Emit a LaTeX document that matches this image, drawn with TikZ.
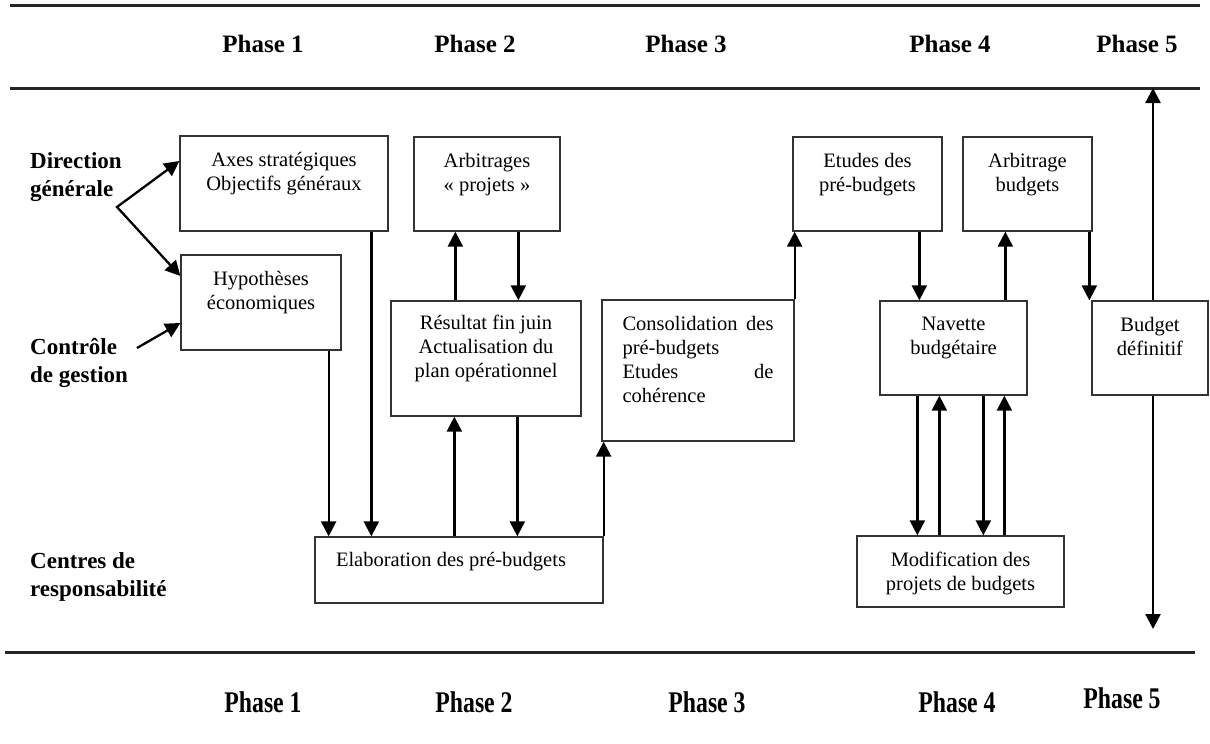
\documentclass[tikz,border=0pt]{standalone}
\usepackage{fontspec}
\setmainfont{Liberation Serif}
\usetikzlibrary{arrows.meta,calc}
\tikzset{
  box/.style={draw=black!80, line width=1.3pt, inner sep=0pt, fill=white},
  bt/.style={anchor=north, align=center, inner sep=0pt, yshift=-16.5pt,
    font=\fontsize{20.5}{24}\selectfont, execute at begin node=\strut},
  arr/.style={line width=2.3pt, -{Triangle[width=15pt,length=15pt]}},
  rule/.style={line width=3pt, draw=black!85},
  phase/.style={font=\fontsize{25}{28}\selectfont\bfseries, inner sep=0pt},
  rowlab/.style={font=\fontsize{23}{27.5}\selectfont\bfseries, align=left, inner sep=0pt, anchor=west},
}
\begin{document}
\begin{tikzpicture}[x=1pt,y=-1pt]
\fill[white] (0,0) rectangle (1210,744);
\useasboundingbox (0,0) rectangle (1210,744);

% rules
\coordinate (t1a) at (10,5);   \coordinate (t1b) at (1200,5);
\coordinate (t2a) at (10,88);  \coordinate (t2b) at (1200,88);
\coordinate (b1a) at (5,652);  \coordinate (b1b) at (1195,652);
\draw[rule] (t1a) -- (t1b);
\draw[rule] (t2a) -- (t2b);
\draw[rule] (b1a) -- (b1b);

% phases
\node[phase] (p1t) at (263,44) {Phase 1};
\node[phase] (p2t) at (475,44) {Phase 2};
\node[phase] (p3t) at (686,44) {Phase 3};
\node[phase] (p4t) at (950,44) {Phase 4};
\node[phase] (p5t) at (1137,44) {Phase 5};
\node[phase] (p1b) at (263,702) {\scalebox{0.95}[1.2]{Phase 1}};
\node[phase] (p2b) at (474,702) {\scalebox{0.95}[1.2]{Phase 2}};
\node[phase] (p3b) at (707,702) {\scalebox{0.95}[1.2]{Phase 3}};
\node[phase] (p4b) at (957,702) {\scalebox{0.95}[1.2]{Phase 4}};
\node[phase] (p5b) at (1122,698) {\scalebox{0.95}[1.2]{Phase 5}};

% row labels
\node[rowlab] (dg) at (30,177) {Direction\\générale};
\node[rowlab] (cg) at (30,363) {Contrôle\\de gestion};
\node[rowlab] (cr) at (30,577) {Centres de\\responsabilité};

% boxes
\node[box, minimum width=208pt, minimum height=95pt,
  label={[bt]north:{Axes stratégiques\\Objectifs généraux}}] (axes) at (284,183.5) {};
\node[box, minimum width=160pt, minimum height=95pt,
  label={[bt]north:{Hypothèses\\économiques}}] (hyp) at (261,302.5) {};
\node[box, minimum width=146pt, minimum height=94pt,
  label={[bt]north:{Arbitrages\\« projets »}}] (arbp) at (487,184) {};
\node[box, minimum width=190pt, minimum height=115pt,
  label={[bt, yshift=1.5pt]north:{Résultat fin juin\\Actualisation du\\plan opérationnel}}] (res) at (486,358.5) {};
\node[box, minimum width=192pt, minimum height=141pt,
  label={[bt, anchor=north west, align=left, text width=151pt, xshift=21pt, yshift=2pt]north west:{Consolidation\hfill des\\pré-budgets\\Etudes\hfill de\\cohérence}}] (cons) at (698,370.5) {};
\node[box, minimum width=149pt, minimum height=94pt,
  label={[bt]north:{Etudes des\\pré-budgets}}] (etud) at (867.5,184) {};
\node[box, minimum width=129pt, minimum height=94pt,
  label={[bt]north:{Arbitrage\\budgets}}] (arbb) at (1027.5,184) {};
\node[box, minimum width=147pt, minimum height=94pt,
  label={[bt]north:{Navette\\budgétaire}}] (nav) at (953.5,348) {};
\node[box, minimum width=116pt, minimum height=94pt,
  label={[bt]north:{Budget\\définitif}}] (budg) at (1150,348) {};
\node[box, minimum width=288pt, minimum height=66pt,
  label={[bt, xshift=-8pt, yshift=3.5pt]north:{Elaboration des pré-budgets}}] (elab) at (459,570) {};
\node[box, minimum width=207pt, minimum height=71pt,
  label={[bt]north:{Modification des\\projets de budgets}}] (modif) at (960.5,571.5) {};

% left arrows
\coordinate (fork) at (117,207);
\coordinate (cgstart) at (137,348);
\draw[line width=2.3pt, {Triangle[width=15pt,length=15pt]}-{Triangle[width=15pt,length=15pt]}]
  ([yshift=22.5pt]axes.west) -- (fork) -- ([yshift=26.5pt]hyp.west);
\draw[arr] (cgstart) -- ([yshift=-20.5pt]hyp.west);

% phase 1 -> elaboration
\draw[arr] ($(hyp.south east)+(-13,0)$) coordinate (h1) -- (h1 |- elab.north);
\draw[arr] ($(axes.south west)+(192,0)$) coordinate (a1) -- (a1 |- elab.north);

% phase 2
\draw[arr] ($(elab.north west)+(140,0)$) coordinate (e1) -- (e1 |- res.south);
\draw[arr] ($(res.south west)+(127,0)$) coordinate (r1) -- (r1 |- elab.north);
\draw[arr] ($(res.north west)+(65,0)$) coordinate (r2) -- (r2 |- arbp.south);
\draw[arr] ($(arbp.south west)+(105,0)$) coordinate (ap1) -- (ap1 |- res.north);

% phase 3
\draw[arr] (elab.north east) -- (elab.north east |- cons.south);
\draw[arr] (cons.north east) -- (cons.north east |- etud.south);

% phase 4
\draw[arr] ($(etud.south west)+(127,0)$) coordinate (et1) -- (et1 |- nav.north);
\draw[arr] ($(nav.north west)+(126,0)$) coordinate (n1) -- (n1 |- arbb.south);
\draw[arr] ($(arbb.south west)+(127,0)$) coordinate (ab1) -- (ab1 |- budg.north);
\draw[arr] ($(nav.south west)+(38,0)$) coordinate (n2) -- (n2 |- modif.north);
\draw[arr] ($(modif.north west)+(83,0)$) coordinate (m1) -- (m1 |- nav.south);
\draw[arr] ($(nav.south west)+(104,0)$) coordinate (n3) -- (n3 |- modif.north);
\draw[arr] ($(modif.north west)+(148,0)$) coordinate (m2) -- (m2 |- nav.south);

% phase 5
\draw[arr] ($(budg.north)+(3,0)$) coordinate (bu1) -- (bu1 |- t2b);
\coordinate (bend) at (1153,629);
\draw[arr] ($(budg.south)+(3,0)$) coordinate (bu2) -- (bu2 |- bend);
\end{tikzpicture}
\end{document}
